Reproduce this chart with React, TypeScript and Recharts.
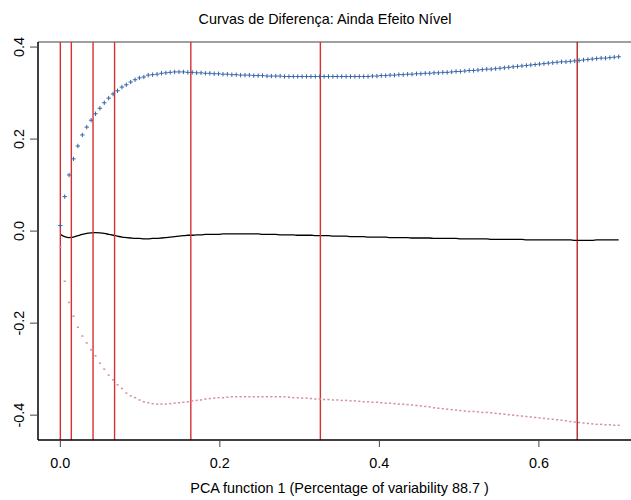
import { LineChart, Line, XAxis, YAxis, ReferenceLine } from "recharts";

// evaluation grid (128 points from 0 to 0.7)
const xs = [
  0.0, 0.0055, 0.011, 0.0165, 0.022, 0.0276, 0.0331, 0.0386, 0.0441, 0.0496,
  0.0551, 0.0606, 0.0661, 0.0717, 0.0772, 0.0827, 0.0882, 0.0937, 0.0992, 0.1047,
  0.1102, 0.1157, 0.1213, 0.1268, 0.1323, 0.1378, 0.1433, 0.1488, 0.1543, 0.1598,
  0.1654, 0.1709, 0.1764, 0.1819, 0.1874, 0.1929, 0.1984, 0.2039, 0.2094, 0.215,
  0.2205, 0.226, 0.2315, 0.237, 0.2425, 0.248, 0.2535, 0.2591, 0.2646, 0.2701,
  0.2756, 0.2811, 0.2866, 0.2921, 0.2976, 0.3031, 0.3087, 0.3142, 0.3197, 0.3252,
  0.3307, 0.3362, 0.3417, 0.3472, 0.3528, 0.3583, 0.3638, 0.3693, 0.3748, 0.3803,
  0.3858, 0.3913, 0.3969, 0.4024, 0.4079, 0.4134, 0.4189, 0.4244, 0.4299, 0.4354,
  0.4409, 0.4465, 0.452, 0.4575, 0.463, 0.4685, 0.474, 0.4795, 0.485, 0.4906,
  0.4961, 0.5016, 0.5071, 0.5126, 0.5181, 0.5236, 0.5291, 0.5346, 0.5402, 0.5457,
  0.5512, 0.5567, 0.5622, 0.5677, 0.5732, 0.5787, 0.5843, 0.5898, 0.5953, 0.6008,
  0.6063, 0.6118, 0.6173, 0.6228, 0.6283, 0.6339, 0.6394, 0.6449, 0.6504, 0.6559,
  0.6614, 0.6669, 0.6724, 0.678, 0.6835, 0.689, 0.6945, 0.7,
];

// mean difference curve (solid black)
const meanCurve = [
  -0.007, -0.012, -0.014, -0.013, -0.01, -0.007, -0.005, -0.004, -0.0035, -0.004,
  -0.005, -0.007, -0.009, -0.011, -0.013, -0.014, -0.015, -0.016, -0.016, -0.017,
  -0.017, -0.016, -0.016, -0.015, -0.014, -0.013, -0.012, -0.011, -0.01, -0.009,
  -0.009, -0.008, -0.008, -0.007, -0.007, -0.007, -0.007, -0.006, -0.006, -0.006,
  -0.006, -0.006, -0.006, -0.006, -0.006, -0.006, -0.007, -0.007, -0.007, -0.007,
  -0.008, -0.008, -0.008, -0.008, -0.009, -0.009, -0.009, -0.009, -0.01, -0.01,
  -0.01, -0.01, -0.011, -0.011, -0.011, -0.011, -0.012, -0.012, -0.012, -0.012,
  -0.013, -0.013, -0.013, -0.013, -0.013, -0.014, -0.014, -0.014, -0.014, -0.014,
  -0.015, -0.015, -0.015, -0.015, -0.015, -0.016, -0.016, -0.016, -0.016, -0.016,
  -0.016, -0.017, -0.017, -0.017, -0.017, -0.017, -0.017, -0.017, -0.018, -0.018,
  -0.018, -0.018, -0.018, -0.018, -0.018, -0.018, -0.019, -0.019, -0.019, -0.019,
  -0.019, -0.019, -0.019, -0.019, -0.019, -0.019, -0.019, -0.02, -0.02, -0.02,
  -0.02, -0.02, -0.019, -0.019, -0.019, -0.019, -0.019, -0.019,
];

// upper curve (blue +)
const upperCurve = [
  0.012, 0.075, 0.122, 0.157, 0.185, 0.209, 0.226, 0.241, 0.255, 0.267,
  0.279, 0.289, 0.298, 0.305, 0.313, 0.318, 0.324, 0.329, 0.333, 0.335,
  0.339, 0.34, 0.341, 0.343, 0.344, 0.345, 0.346, 0.346, 0.346, 0.345,
  0.345, 0.344, 0.344, 0.343, 0.343, 0.342, 0.342, 0.341, 0.341, 0.34,
  0.34, 0.339, 0.339, 0.339, 0.338, 0.338, 0.338, 0.337, 0.337, 0.337,
  0.337, 0.336, 0.336, 0.336, 0.336, 0.336, 0.336, 0.336, 0.336, 0.336,
  0.336, 0.336, 0.336, 0.336, 0.336, 0.336, 0.336, 0.336, 0.336, 0.336,
  0.336, 0.337, 0.337, 0.338, 0.338, 0.339, 0.339, 0.34, 0.34, 0.341,
  0.341, 0.342, 0.342, 0.343, 0.343, 0.344, 0.344, 0.345, 0.345, 0.346,
  0.347, 0.347, 0.348, 0.349, 0.349, 0.35, 0.351, 0.352, 0.352, 0.353,
  0.354, 0.355, 0.356, 0.357, 0.358, 0.359, 0.36, 0.361, 0.362, 0.363,
  0.364, 0.365, 0.366, 0.367, 0.368, 0.368, 0.369, 0.37, 0.371, 0.372,
  0.373, 0.374, 0.375, 0.376, 0.376, 0.377, 0.378, 0.379,
];

// lower curve (red dots)
const lowerCurve = [
  -0.035, -0.109, -0.155, -0.185, -0.209, -0.228, -0.243, -0.258, -0.271, -0.287,
  -0.3, -0.313, -0.323, -0.334, -0.342, -0.352, -0.358, -0.362, -0.367, -0.371,
  -0.373, -0.375, -0.376, -0.376, -0.376, -0.375, -0.374, -0.373, -0.372, -0.371,
  -0.369, -0.368, -0.367, -0.365, -0.364, -0.363, -0.362, -0.362, -0.361, -0.36,
  -0.36, -0.36, -0.36, -0.36, -0.36, -0.36, -0.36, -0.36, -0.36, -0.36,
  -0.36, -0.36, -0.361, -0.362, -0.362, -0.363, -0.363, -0.364, -0.365, -0.365,
  -0.366, -0.366, -0.367, -0.367, -0.368, -0.368, -0.369, -0.369, -0.37, -0.371,
  -0.371, -0.372, -0.372, -0.373, -0.374, -0.374, -0.375, -0.376, -0.376, -0.377,
  -0.378, -0.379, -0.38, -0.381, -0.382, -0.384, -0.385, -0.386, -0.387, -0.388,
  -0.389, -0.39, -0.391, -0.392, -0.392, -0.393, -0.394, -0.394, -0.395, -0.396,
  -0.397, -0.398, -0.399, -0.4, -0.401, -0.402, -0.403, -0.404, -0.405, -0.406,
  -0.407, -0.408, -0.409, -0.41, -0.411, -0.412, -0.414, -0.415, -0.416, -0.417,
  -0.418, -0.419, -0.42, -0.42, -0.421, -0.421, -0.422, -0.422,
];

const redCuts = [0, 0.0138, 0.041, 0.068, 0.1636, 0.326];
const darkCut = 0.648;

const xTicks = [0, 0.2, 0.4, 0.6];
const yTicks = [-0.4, -0.2, 0, 0.2, 0.4];

const title = "Curvas de Diferença: Ainda Efeito Nível";
const xLabel = "PCA function 1 (Percentage of variability 88.7 )";

const FONT = "'Liberation Sans', Arial, Helvetica, sans-serif";
const FS = 14.4;

const data = xs.map((x, i) => ({
  x,
  mean: meanCurve[i],
  upper: upperCurve[i],
  lower: lowerCurve[i],
}));

function PlusDot(props: any) {
  const { cx, cy, index } = props;
  if (cx == null || cy == null) return <g key={index} />;
  const s = 2.2;
  return (
    <path
      key={index}
      d={`M${cx - s},${cy}H${cx + s}M${cx},${cy - s}V${cy + s}`}
      stroke="#3566a6"
      strokeWidth={1}
      fill="none"
    />
  );
}

function SmallDot(props: any) {
  const { cx, cy, index } = props;
  if (cx == null || cy == null) return <g key={index} />;
  return <rect key={index} x={cx - 1.1} y={cy - 0.75} width={2.2} height={1.5} fill="#d690a6" />;
}

function XTick(props: any) {
  const { x, y, payload } = props;
  return (
    <text x={x} y={y + 21} textAnchor="middle" fontSize={FS} fontFamily={FONT} fill="#000">
      {Number(payload.value).toFixed(1)}
    </text>
  );
}

function YTick(props: any) {
  const { x, y, payload } = props;
  const tx = x - 5.5;
  return (
    <text
      x={tx}
      y={y}
      transform={`rotate(-90, ${tx}, ${y})`}
      textAnchor="middle"
      fontSize={FS}
      fontFamily={FONT}
      fill="#000"
    >
      {Number(payload.value).toFixed(1)}
    </text>
  );
}

export default function App() {
  return (
    <div
      style={{
        position: "absolute",
        left: 0,
        top: 0,
        width: 631,
        height: 500,
        overflow: "hidden",
        background: "#fff",
      }}
    >
      <svg width={631} height={40} style={{ position: "absolute", left: 0, top: 0 }}>
        <text x={325} y={24} textAnchor="middle" fontSize={FS} fontFamily={FONT} fill="#000">
          {title}
        </text>
      </svg>
      <div style={{ position: "absolute", left: 0, top: 0 }}>
        <LineChart width={660} height={500} data={data} margin={{ top: 42, right: 19, bottom: 0, left: 0 }}>
          <XAxis
            dataKey="x"
            type="number"
            domain={[-0.028, 0.728]}
            allowDataOverflow
            ticks={xTicks}
            tick={<XTick />}
            tickSize={7}
            tickMargin={0}
            tickLine={{ stroke: "#444", strokeWidth: 1 }}
            axisLine={{ stroke: "#000", strokeWidth: 1.5 }}
            height={60}
            label={{ value: xLabel, position: "insideBottom", offset: 7, fill: "#000", fontSize: FS, fontFamily: FONT }}
          />
          <YAxis
            type="number"
            domain={[-0.454, 0.411]}
            allowDataOverflow
            ticks={yTicks}
            tick={<YTick />}
            tickSize={8}
            tickMargin={0}
            tickLine={{ stroke: "#444", strokeWidth: 1 }}
            axisLine={{ stroke: "#000", strokeWidth: 1.5 }}
            width={38}
          />
          <ReferenceLine y={0.411} stroke="#808080" strokeWidth={1.5} />
          <Line
            dataKey="upper"
            stroke="none"
            dot={<PlusDot />}
            activeDot={false}
            isAnimationActive={false}
          />
          <Line
            dataKey="lower"
            stroke="none"
            dot={<SmallDot />}
            activeDot={false}
            isAnimationActive={false}
          />
          <Line
            dataKey="mean"
            type="monotone"
            stroke="#000"
            strokeWidth={1.3}
            dot={false}
            activeDot={false}
            isAnimationActive={false}
          />
          {redCuts.map((c) => (
            <ReferenceLine key={c} x={c} stroke="#d83030" strokeWidth={1.4} />
          ))}
          <ReferenceLine x={darkCut} stroke="#a80000" strokeWidth={1.2} />
        </LineChart>
      </div>
    </div>
  );
}
